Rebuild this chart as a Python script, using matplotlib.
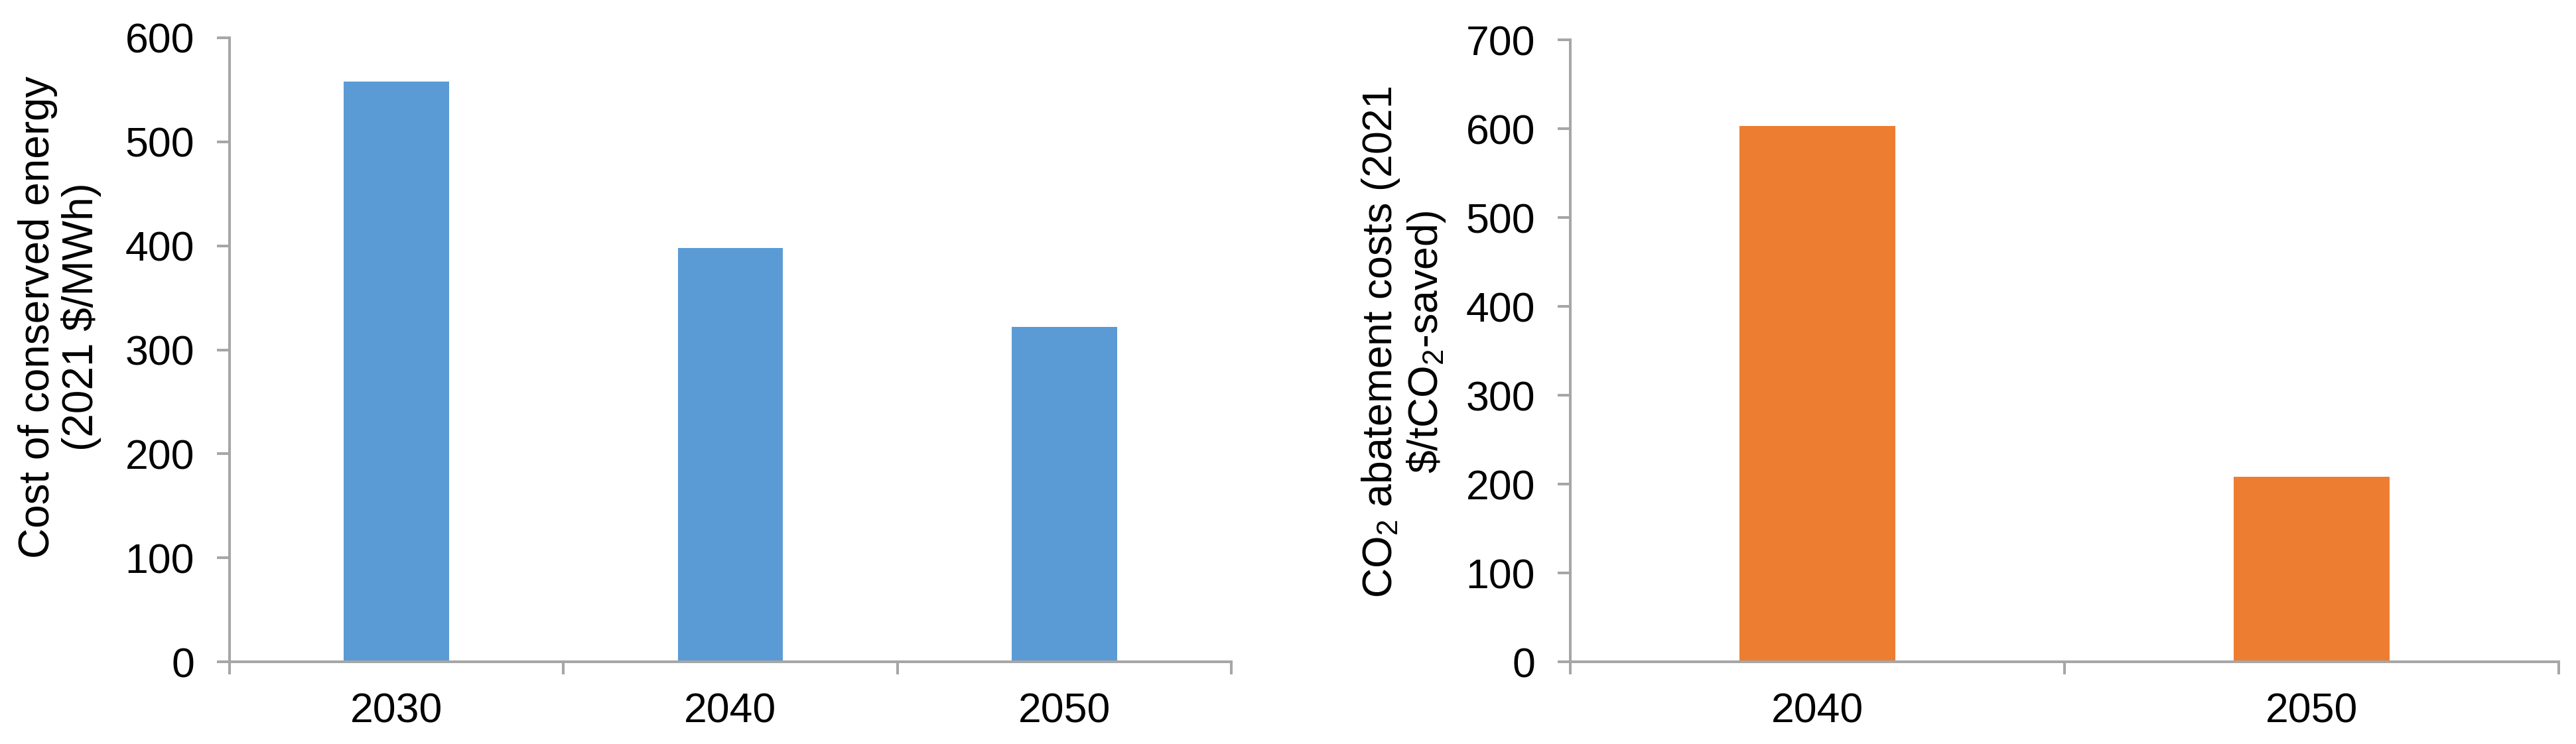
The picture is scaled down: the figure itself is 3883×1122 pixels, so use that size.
import matplotlib
matplotlib.use('Agg')
import matplotlib.pyplot as plt
from matplotlib.ticker import FixedLocator

plt.rcParams['font.family'] = ['Liberation Sans', 'DejaVu Sans']
plt.rcParams['mathtext.fontset'] = 'custom'
plt.rcParams['mathtext.rm'] = 'Liberation Sans'
plt.rcParams['mathtext.it'] = 'Liberation Sans'
plt.rcParams['mathtext.default'] = 'regular'

# data
years_cce = ['2030', '2040', '2050']
cost_conserved = [558, 398, 322]

years_abate = ['2040', '2050']
abatement_cost = [603, 208]

grey = '#A6A6A6'
W, H = 3883, 1122
fig = plt.figure(figsize=(W / 100, H / 100), dpi=100)


def style(ax, n, ymax, ystep):
    ax.set_xlim(-0.5, n - 0.5)
    ax.set_ylim(0, ymax)
    ax.set_yticks(range(0, ymax + 1, ystep))
    for s in ['top', 'right']:
        ax.spines[s].set_visible(False)
    for s in ['left', 'bottom']:
        ax.spines[s].set_color(grey)
        ax.spines[s].set_linewidth(2.9)
    ax.tick_params(axis='y', length=14, width=2.9, color=grey, pad=24, labelsize=45)
    ax.tick_params(axis='x', which='major', length=0, pad=33, labelsize=45)
    # excel style: tick marks sit between categories
    ax.xaxis.set_minor_locator(FixedLocator([i - 0.5 for i in range(n + 1)]))
    ax.tick_params(axis='x', which='minor', length=14, width=2.9, color=grey)


ax1 = fig.add_axes([346 / W, 1 - 998 / H, (1856 - 346) / W, (998 - 57) / H])
ax1.bar(range(len(years_cce)), cost_conserved, width=0.315, color='#5B9BD5')
ax1.set_xticks(range(len(years_cce)))
ax1.set_xticklabels(years_cce)
style(ax1, len(years_cce), 600, 100)

ax2 = fig.add_axes([2367 / W, 1 - 998 / H, (3857 - 2367) / W, (998 - 60) / H])
ax2.bar(range(len(years_abate)), abatement_cost, width=0.315, color='#ED7D31')
ax2.set_xticks(range(len(years_abate)))
ax2.set_xticklabels(years_abate)
style(ax2, len(years_abate), 700, 100)

fig.text(90 / W, 1 - 478 / H, 'Cost of conserved energy\n(2021 $/MWh)',
         rotation=90, ha='center', va='center', multialignment='center',
         fontsize=46, linespacing=1.1)
fig.text(2116 / W, 1 - 516 / H, 'CO$_2$ abatement costs (2021\n\\$/tCO$_2$-saved)',
         rotation=90, ha='center', va='center', multialignment='center',
         fontsize=45, linespacing=1.1)

plt.savefig('out.png', dpi=100)
plt.close(fig)
